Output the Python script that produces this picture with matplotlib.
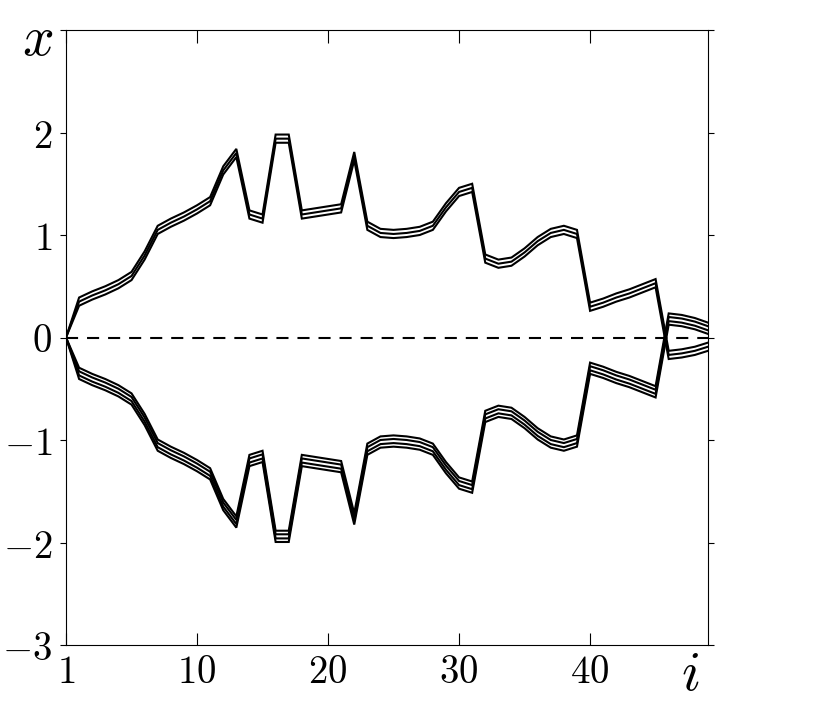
import matplotlib
matplotlib.use("Agg")
import matplotlib.pyplot as plt

plt.rcParams['mathtext.fontset'] = 'cm'

# index along the chain (plotted at 0..49, first tick labelled 1)
steps = list(range(50))

# upper group before the crossing (3 lines)
a_hi = [0, .39, .45, .50, .56, .64, .84, 1.09, 1.16, 1.22, 1.29, 1.37, 1.67, 1.84, 1.24, 1.20,
        1.98, 1.98, 1.24, 1.26, 1.28, 1.30, 1.81, 1.13, 1.06, 1.05, 1.06, 1.08, 1.13, 1.31, 1.46,
        1.50, .81, .76, .78, .87, .98, 1.06, 1.09, 1.05, .34, .38, .43, .47, .52, .57,
        -.13, -.115, -.09, -.05]
a_mid = [0, .35, .41, .46, .52, .60, .80, 1.05, 1.12, 1.18, 1.25, 1.33, 1.63, 1.80, 1.20, 1.16,
         1.94, 1.94, 1.20, 1.22, 1.24, 1.26, 1.77, 1.09, 1.02, 1.01, 1.02, 1.04, 1.09, 1.27, 1.42,
         1.46, .77, .72, .74, .83, .94, 1.02, 1.05, 1.01, .30, .34, .39, .43, .48, .53,
         -.17, -.155, -.13, -.09]
a_lo = [0, .31, .37, .42, .48, .56, .76, 1.01, 1.08, 1.14, 1.21, 1.29, 1.59, 1.76, 1.16, 1.12,
        1.90, 1.90, 1.16, 1.18, 1.20, 1.22, 1.73, 1.05, .98, .97, .98, 1.00, 1.05, 1.23, 1.38,
        1.42, .73, .68, .70, .79, .90, .98, 1.01, .97, .26, .30, .35, .39, .44, .49,
        -.21, -.195, -.17, -.13]

# lower group before the crossing (4 lines)
b_1 = [0, -.295, -.355, -.405, -.465, -.545, -.745, -.995, -1.065, -1.125, -1.195, -1.275, -1.575,
       -1.745, -1.145, -1.105, -1.885, -1.885, -1.145, -1.165, -1.185, -1.205, -1.715, -1.035,
       -.965, -.955, -.965, -.985, -1.035, -1.215, -1.365, -1.405, -.715, -.665, -.685, -.775,
       -.885, -.965, -.995, -.955, -.245, -.285, -.335, -.375, -.425, -.475,
       .235, .22, .19, .145]
b_2 = [0, -.33, -.39, -.44, -.50, -.58, -.78, -1.03, -1.10, -1.16, -1.23, -1.31, -1.61, -1.78,
       -1.18, -1.14, -1.92, -1.92, -1.18, -1.20, -1.22, -1.24, -1.75, -1.07, -1.00, -.99, -1.00,
       -1.02, -1.07, -1.25, -1.40, -1.44, -.75, -.70, -.72, -.81, -.92, -1.00, -1.03, -.99,
       -.28, -.32, -.37, -.41, -.46, -.51,
       .20, .185, .155, .11]
b_3 = [0, -.37, -.43, -.48, -.54, -.62, -.82, -1.07, -1.14, -1.20, -1.27, -1.35, -1.65, -1.82,
       -1.22, -1.18, -1.96, -1.96, -1.22, -1.24, -1.26, -1.28, -1.79, -1.11, -1.04, -1.03, -1.04,
       -1.06, -1.11, -1.29, -1.44, -1.48, -.79, -.74, -.76, -.85, -.96, -1.04, -1.07, -1.03,
       -.32, -.36, -.41, -.45, -.50, -.55,
       .16, .145, .115, .07]
b_4 = [0, -.405, -.465, -.515, -.575, -.655, -.855, -1.105, -1.175, -1.235, -1.305, -1.385, -1.685,
       -1.855, -1.255, -1.215, -1.995, -1.995, -1.255, -1.275, -1.295, -1.315, -1.825, -1.145,
       -1.075, -1.065, -1.075, -1.095, -1.145, -1.325, -1.475, -1.515, -.825, -.775, -.795, -.885,
       -.995, -1.075, -1.105, -1.065, -.355, -.395, -.445, -.485, -.535, -.585,
       .125, .11, .08, .035]

xtick_pos = [0, 10, 20, 30, 40]
xtick_labels = ['$1$', '$10$', '$20$', '$30$', '$40$']
ytick_pos = [-3, -2, -1, 0, 1, 2, 3]
ytick_labels = ['$-3$', '$-2$', '$-1$', '$0$', '$1$', '$2$', '']

fig = plt.figure(figsize=(8.32, 7.13), dpi=100)
ax = fig.add_axes([66 / 832, 68 / 713, 642 / 832, 615 / 713])

for ys in [a_hi, a_mid, a_lo, b_1, b_2, b_3, b_4]:
    ax.plot(steps, ys, color='black', lw=1.5, solid_joinstyle='miter')

# dashed zero line
ax.axhline(0, color='black', lw=1.5, dashes=(5.8, 4.3))

ax.set_xlim(0, 49)
ax.set_ylim(-3, 3)
ax.set_xticks(xtick_pos)
ax.set_xticklabels(xtick_labels)
ax.set_yticks(ytick_pos)
ax.set_yticklabels(ytick_labels)

ax.tick_params(axis='x', direction='in', length=9, width=0.8, top=True, labelsize=28, pad=6)
ax.tick_params(axis='y', direction='out', length=4.5, width=0.8, right=True, labelsize=28, pad=5.5)

ax.text(-0.044, 0.984, '$x$', transform=ax.transAxes, fontsize=40, ha='center', va='center')
ax.text(0.972, -0.049, '$i$', transform=ax.transAxes, fontsize=40, ha='center', va='center')

fig.savefig('out.png', dpi=100)
